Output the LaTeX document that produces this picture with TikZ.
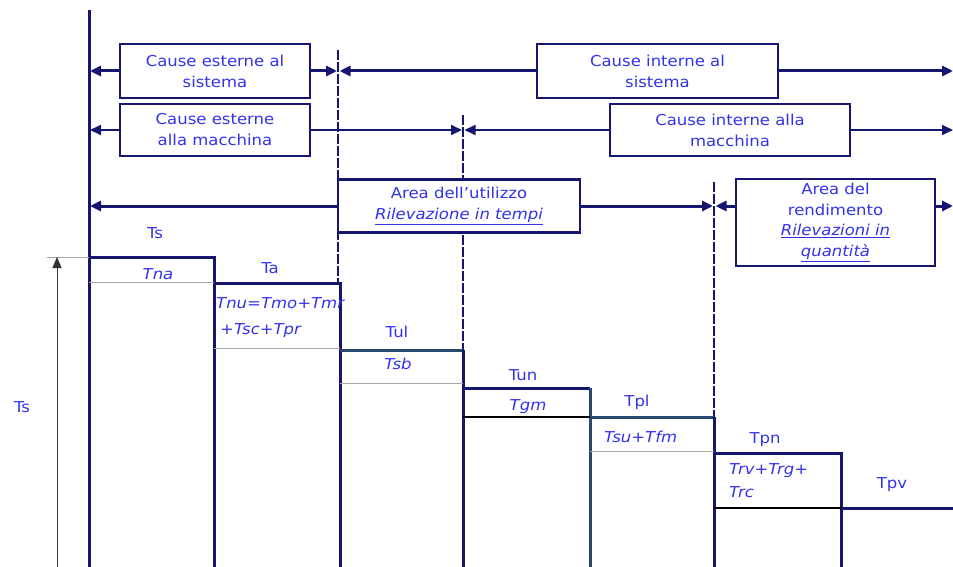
\documentclass[tikz,border=0pt]{standalone}
\usepackage{fontspec}
\setmainfont{DejaVu Sans}[FakeStretch=1.1]
\usetikzlibrary{arrows.meta}
\definecolor{navy}{RGB}{22,22,112}
\definecolor{steel}{RGB}{40,70,110}
\definecolor{tblue}{RGB}{50,50,235}
\begin{document}
\begin{tikzpicture}[x=1pt,y=-1pt,
  cbox/.style={draw=navy,line width=2.2pt,fill=white,text=tblue,align=center,inner sep=0pt,
    font=\fontsize{15}{21}\selectfont},
  arrthick/.style={draw=navy,line width=3pt,-{Triangle[length=11pt,width=10pt]}},
  arrthin/.style={draw=navy,line width=1.8pt,-{Triangle[length=11pt,width=10pt]}},
  divline/.style={draw=navy,line width=1.4pt,dash pattern=on 10pt off 2pt},
  colline/.style={draw=navy,line width=3pt},
  steelline/.style={draw=steel,line width=3pt},
  sepgray/.style={draw=gray!70,line width=1pt},
  sepblack/.style={draw=black,line width=1.2pt},
  lbl/.style={text=tblue,inner sep=0pt,font=\fontsize{15}{18}\selectfont},
  ilbl/.style={lbl,font=\fontsize{15}{28}\selectfont\itshape}]
\useasboundingbox (0,0) rectangle (953,567);

% main vertical line
\coordinate (mtop) at (89,10);
\coordinate (mbot) at (89,567);
\draw[colline] (mtop) -- (mbot);

% dashed dividers
\coordinate (d1t) at (338,50);  \coordinate (d1b) at (338,283);
\coordinate (d2t) at (463,115); \coordinate (d2b) at (463,350);
\coordinate (d3t) at (714,182); \coordinate (d3b) at (714,417);
\draw[divline] (d1t) -- (d1b);
\draw[divline] (d2t) -- (d2b);
\draw[divline] (d3t) -- (d3b);

% boxes
\node[cbox,minimum width=190pt,minimum height=54pt] (b1) at (215,71) {Cause esterne al\\sistema};
\node[cbox,minimum width=241pt,minimum height=54pt] (b2) at (657.5,71) {Cause interne al\\sistema};
\node[cbox,minimum width=190pt,minimum height=52pt] (b3) at (215,130) {Cause esterne\\alla macchina};
\node[cbox,minimum width=240pt,minimum height=52pt] (b4) at (730,130) {Cause interne alla\\macchina};
\node[cbox,minimum width=242pt,minimum height=53pt] (b5) at (459,206) {Area dell'utilizzo\\\textit{\underline{Rilevazione in tempi}}};
\node[cbox,minimum width=199pt,minimum height=87pt,font=\fontsize{15}{20.5}\selectfont] (b6) at (835.5,222.5) {Area del\\rendimento\\\textit{\underline{Rilevazioni in}}\\\textit{\underline{quantità}}};

% arrow end points
\coordinate (l1) at (90,71);  \coordinate (l2) at (90,130);  \coordinate (l3) at (90,206);
\coordinate (p1a) at (337,71);  \coordinate (p1b) at (339.5,71);
\coordinate (p2a) at (462,130); \coordinate (p2b) at (464.5,130);
\coordinate (p3a) at (713,206); \coordinate (p3b) at (715.5,206);
\coordinate (e1) at (953,71); \coordinate (e2) at (953,130); \coordinate (e3) at (953,206);

% row 1
\draw[arrthick] (b1.west) -- (l1);
\draw[arrthick] (b1.east) -- (p1a);
\draw[arrthick] (b2.west) -- (p1b);
\draw[arrthick] (b2.east) -- (e1);
% row 2
\draw[arrthin] (b3.west) -- (l2);
\draw[arrthin] (b3.east) -- (p2a);
\draw[arrthin] (b4.west) -- (p2b);
\draw[arrthin] (b4.east) -- (e2);
% row 3
\draw[arrthick] (b5.west) -- (l3);
\draw[arrthick] (b5.east) -- (p3a);
\draw[arrthick] (b6.west |- p3b) -- (p3b);
\draw[arrthick] (b6.east |- e3) -- (e3);

% step columns
\draw[colline] (89,257) -- (214,257) -- (214,567);
\draw[colline] (214,283) -- (340,283) -- (340,567);
\draw[steelline] (340,350) -- (463,350);
\draw[colline] (463,350) -- (463,567);
\draw[colline] (463,388) -- (590,388);
\draw[steelline] (590,388) -- (590,567);
\draw[steelline] (590,417) -- (714,417);
\draw[colline] (714,417) -- (714,567);
\draw[colline] (714,453) -- (841,453) -- (841,567);
\draw[colline] (841,508) -- (953,508);

% separators inside columns
\draw[sepgray] (89,282) -- (214,282);
\draw[sepgray] (214,348) -- (340,348);
\draw[sepgray] (340,383) -- (463,383);
\draw[sepblack] (463,417) -- (590,417);
\draw[sepgray] (590,451) -- (714,451);
\draw[sepblack] (714,508) -- (841,508);

% dimension Ts
\coordinate (dimtop) at (57,257);
\coordinate (dimbot) at (57,567);
\coordinate (ext) at (47,257);
\draw[gray!70,line width=1pt] (ext) -- (89,257);
\draw[black!80,line width=1pt,-{Triangle[length=11pt,width=9pt]}] (dimbot) -- (dimtop);
\node[lbl] (tsleft) at (22,407) {Ts};

% labels
\node[lbl] (ts) at (155,233) {Ts};
\node[ilbl] (tna) at (158,274) {Tna};
\node[lbl] (ta) at (270,268) {Ta};
\node[ilbl,anchor=west] (tnu) at (216,303) {Tnu=Tmo+Tmr};
\node[ilbl,anchor=west] (tsc) at (220,331) {+Tsc+Tpr};
\node[lbl] (tul) at (397,332) {Tul};
\node[ilbl] (tsb) at (398,364) {Tsb};
\node[lbl] (tun) at (523,375) {Tun};
\node[ilbl] (tgm) at (528,407) {Tgm};
\node[lbl] (tpl) at (637,402) {Tpl};
\node[ilbl,anchor=west] (tsu) at (604,437) {Tsu+Tfm};
\node[lbl] (tpn) at (765,440) {Tpn};
\node[ilbl,anchor=west] (trv) at (729,471) {Trv+Trg+};
\node[ilbl,anchor=west] (trc) at (729,492) {Trc};
\node[lbl] (tpv) at (892,485) {Tpv};
\end{tikzpicture}
\end{document}
